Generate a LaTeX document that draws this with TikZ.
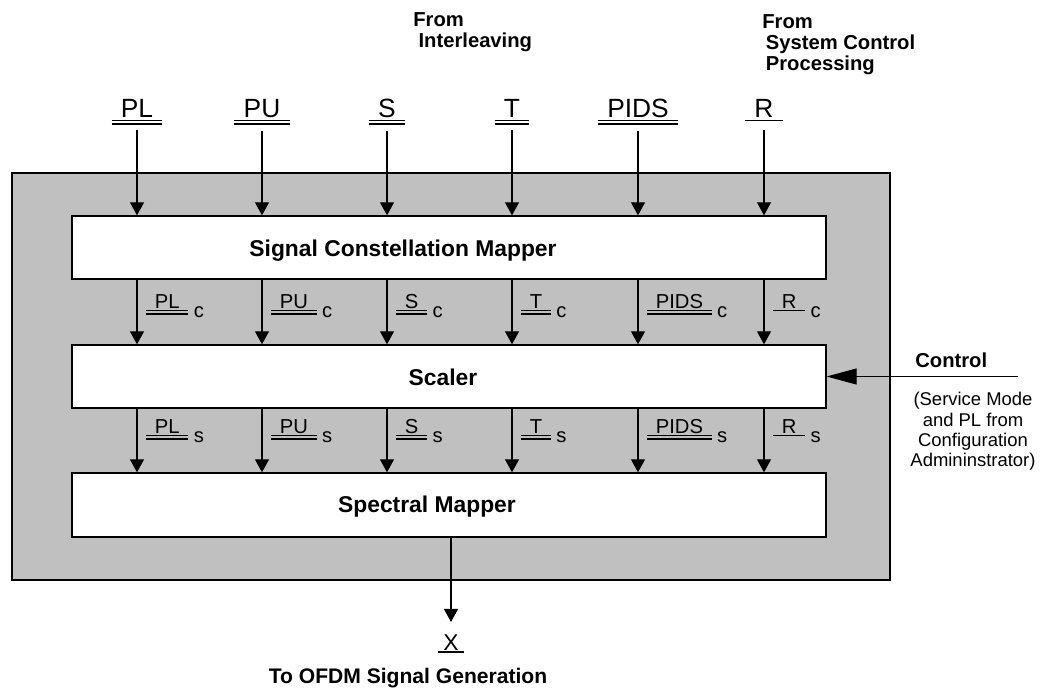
\documentclass[tikz,border=0pt]{standalone}
\usepackage{fontspec}
\setmainfont{Liberation Sans}
\usetikzlibrary{arrows.meta}
\definecolor{panelgray}{RGB}{192,192,192}
\newcommand{\sgl}[2]{\draw[ul] ([yshift=-#2]#1.base west) -- ([yshift=-#2]#1.base east);}
\newcommand{\dbl}[3]{\sgl{#1}{#2}\sgl{#1}{#3}}
\tikzset{
	blk/.style={draw, line width=0.8pt, fill=white, minimum width=15.08cm, minimum height=1.26cm, inner sep=0pt},
	blktxt/.style={font=\fontsize{13}{15}\selectfont\bfseries, inner sep=0pt, anchor=base},
	toplbl/.style={font=\fontsize{15}{18}\selectfont, inner xsep=0.18cm, inner ysep=0.26cm, anchor=base},
	midlbl/.style={font=\fontsize{11.5}{13}\selectfont, inner xsep=0.17cm, inner ysep=0pt, anchor=base west},
	sublbl/.style={font=\fontsize{11.5}{13}\selectfont, inner sep=0pt, anchor=base west},
	note/.style={font=\fontsize{11.5}{12}\selectfont\bfseries, inner sep=0pt, align=left, anchor=north west},
	ul/.style={line width=0.75pt},
	sig/.style={line width=0.6pt, -{Triangle[length=0.26cm,width=0.28cm]}},
	ctl/.style={line width=0.6pt, -{Triangle[length=0.6cm,width=0.32cm]}}
}
\begin{document}
\begin{tikzpicture}[x=0.02cm,y=-0.02cm]
	\useasboundingbox (0,0) rectangle (1041,690);
	\node[draw, line width=0.8pt, fill=panelgray, minimum width=17.56cm, minimum height=8.14cm, inner sep=0pt] (panel) at (451,376.5) {};
	
	\node[blk] (scm) at (449,247.5) {};
	\node[blk] (scaler) at (449,376.5) {};
	\node[blk, minimum height=1.28cm] (spm) at (449,505) {};
	\node[blktxt] (scmtxt) at (403,256) {Signal Constellation Mapper};
	\node[blktxt] (scalertxt) at (443,385) {Scaler};
	\node[blktxt] (spmtxt) at (427,512) {Spectral Mapper};
	
	\node[note] (from1) at (413,12) {From\\\hspace*{3pt}Interleaving};
	\node[note] (from2) at (762,14) {From\\\hspace*{2pt}System Control\\\hspace*{2pt}Processing};
	
	\node[toplbl] (tPL) at (137,117) {PL};
	\node[toplbl] (tPU) at (262,117) {PU};
	\node[toplbl] (tS) at (387,117) {S};
	\node[toplbl] (tT) at (512,117) {T};
	\node[toplbl] (tPIDS) at (638,117) {PIDS};
	\node[toplbl] (tR) at (764,117) {R};
	\dbl{tPL}{0.07cm}{0.14cm}
	\dbl{tPU}{0.07cm}{0.14cm}
	\dbl{tS}{0.07cm}{0.14cm}
	\dbl{tT}{0.07cm}{0.14cm}
	\dbl{tPIDS}{0.07cm}{0.14cm}
	\sgl{tR}{0.07cm}
	
	\draw[sig] (tPL.south) -- (tPL.south |- scm.north);
	\draw[sig] (tPU.south) -- (tPU.south |- scm.north);
	\draw[sig] (tS.south) -- (tS.south |- scm.north);
	\draw[sig] (tT.south) -- (tT.south |- scm.north);
	\draw[sig] (tPIDS.south) -- (tPIDS.south |- scm.north);
	\draw[sig] (tR.south) -- (tR.south |- scm.north);
	
	\draw[sig] (tPL |- scm.south) -- (tPL |- scaler.north);
	\draw[sig] (tPU |- scm.south) -- (tPU |- scaler.north);
	\draw[sig] (tS |- scm.south) -- (tS |- scaler.north);
	\draw[sig] (tT |- scm.south) -- (tT |- scaler.north);
	\draw[sig] (tPIDS |- scm.south) -- (tPIDS |- scaler.north);
	\draw[sig] (tR |- scm.south) -- (tR |- scaler.north);
	
	\node[midlbl] (cPL) at (146,308) {PL};
	\node[midlbl] (cPU) at (271,308) {PU};
	\node[midlbl] (cS) at (396,308) {S};
	\node[midlbl] (cT) at (521,308) {T};
	\node[midlbl] (cPIDS) at (647,308) {PIDS};
	\node[midlbl] (cR) at (773,308) {R};
	\node[sublbl] (cPLsub) at ([xshift=0.1cm,yshift=-0.18cm]cPL.base east) {c};
	\node[sublbl] (cPUsub) at ([xshift=0.1cm,yshift=-0.18cm]cPU.base east) {c};
	\node[sublbl] (cSsub) at ([xshift=0.1cm,yshift=-0.18cm]cS.base east) {c};
	\node[sublbl] (cTsub) at ([xshift=0.1cm,yshift=-0.18cm]cT.base east) {c};
	\node[sublbl] (cPIDSsub) at ([xshift=0.1cm,yshift=-0.18cm]cPIDS.base east) {c};
	\node[sublbl] (cRsub) at ([xshift=0.1cm,yshift=-0.18cm]cR.base east) {c};
	\dbl{cPL}{0.05cm}{0.12cm}
	\dbl{cPU}{0.05cm}{0.12cm}
	\dbl{cS}{0.05cm}{0.12cm}
	\dbl{cT}{0.05cm}{0.12cm}
	\dbl{cPIDS}{0.05cm}{0.12cm}
	\sgl{cR}{0.05cm}
	
	\draw[sig] (tPL |- scaler.south) -- (tPL |- spm.north);
	\draw[sig] (tPU |- scaler.south) -- (tPU |- spm.north);
	\draw[sig] (tS |- scaler.south) -- (tS |- spm.north);
	\draw[sig] (tT |- scaler.south) -- (tT |- spm.north);
	\draw[sig] (tPIDS |- scaler.south) -- (tPIDS |- spm.north);
	\draw[sig] (tR |- scaler.south) -- (tR |- spm.north);
	
	\node[midlbl] (sPL) at (146,433) {PL};
	\node[midlbl] (sPU) at (271,433) {PU};
	\node[midlbl] (sS) at (396,433) {S};
	\node[midlbl] (sT) at (521,433) {T};
	\node[midlbl] (sPIDS) at (647,433) {PIDS};
	\node[midlbl] (sR) at (773,433) {R};
	\node[sublbl] (sPLsub) at ([xshift=0.1cm,yshift=-0.18cm]sPL.base east) {s};
	\node[sublbl] (sPUsub) at ([xshift=0.1cm,yshift=-0.18cm]sPU.base east) {s};
	\node[sublbl] (sSsub) at ([xshift=0.1cm,yshift=-0.18cm]sS.base east) {s};
	\node[sublbl] (sTsub) at ([xshift=0.1cm,yshift=-0.18cm]sT.base east) {s};
	\node[sublbl] (sPIDSsub) at ([xshift=0.1cm,yshift=-0.18cm]sPIDS.base east) {s};
	\node[sublbl] (sRsub) at ([xshift=0.1cm,yshift=-0.18cm]sR.base east) {s};
	\dbl{sPL}{0.05cm}{0.12cm}
	\dbl{sPU}{0.05cm}{0.12cm}
	\dbl{sS}{0.05cm}{0.12cm}
	\dbl{sT}{0.05cm}{0.12cm}
	\dbl{sPIDS}{0.05cm}{0.12cm}
	\sgl{sR}{0.05cm}
	
	\coordinate (ctlin) at (1018,376.5);
	\draw[ctl] (ctlin) -- (scaler.east);
	\node[note, anchor=base west] (ctltxt) at (915,367) {Control};
	\node[font=\fontsize{10.5}{11.6}\selectfont, align=center, inner sep=0pt, anchor=north] (ctlnote) at (973,392) {(Service Mode\\and PL from\\Configuration\\Admininstrator)};
	
	\node[font=\fontsize{13}{15}\selectfont, inner xsep=0.1cm, inner ysep=0.24cm, anchor=base] (xout) at (451,650) {X};
	\sgl{xout}{0.04cm}
	\draw[sig] (spm.south -| xout) -- (xout.north);
	\node[note, font=\fontsize{12}{14}\selectfont\bfseries, anchor=base] (ofdm) at (408,683) {To OFDM Signal Generation};
\end{tikzpicture}
\end{document}
